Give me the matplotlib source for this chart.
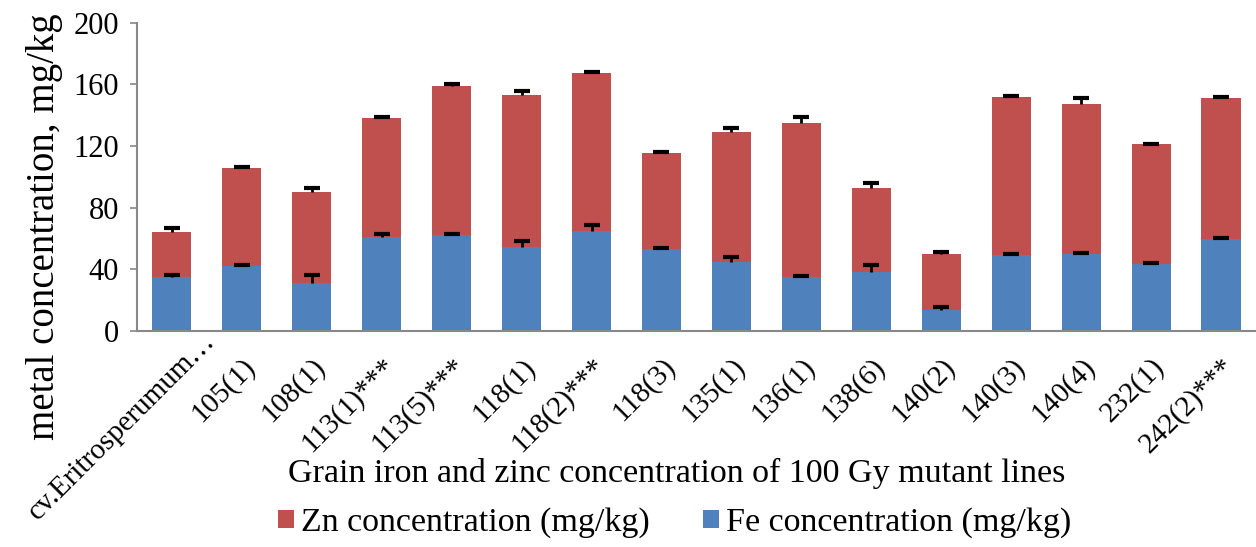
import matplotlib
matplotlib.use("Agg")
import matplotlib.pyplot as plt
import matplotlib.transforms as mtransforms
import numpy as np

categories = ["cv.Eritrosperumum\u2026", "105(1)", "108(1)", "113(1)***", "113(5)***", "118(1)",
              "118(2)***", "118(3)", "135(1)", "136(1)", "138(6)", "140(2)", "140(3)",
              "140(4)", "232(1)", "242(2)***"]
fe = [35, 42, 31, 61, 62, 54.5, 65, 53, 45, 35, 38, 13.6, 49, 50, 43.5, 59.5]
total = [64, 106, 90, 138, 159, 153, 167.5, 115.6, 129, 135, 93, 50, 152, 147, 121, 151]
zn = [t - f for t, f in zip(total, fe)]
fe_err = [1, 0.5, 5, 2, 1, 4, 4, 0.5, 3, 0.5, 4.5, 2, 1, 0.5, 0.5, 0.5]
zn_err = [3, 0.5, 3, 1, 1, 3, 0.5, 0.5, 3, 4, 3, 1, 0.5, 4, 0.5, 0.5]

plt.rcParams['font.family'] = ['Liberation Serif', 'DejaVu Serif']

fig = plt.figure(figsize=(12.56, 5.47), dpi=100)
ax = fig.add_axes([0.109, 0.395, 0.891, 0.5635])

x = np.arange(len(categories))
w = 0.56
zn_col = '#C0504D'
fe_col = '#4F81BD'
ax.bar(x, fe, w, color=fe_col, label='Fe concentration (mg/kg)', zorder=2)
ax.bar(x, zn, w, bottom=fe, color=zn_col, label='Zn concentration (mg/kg)', zorder=2)

for base, err in ((fe, fe_err), (total, zn_err)):
    base = np.asarray(base, float)
    err = np.asarray(err, float)
    ax.errorbar(x, base, yerr=[np.zeros_like(err), err], fmt='none', ecolor='black',
                elinewidth=2, capsize=0, zorder=3)
    ax.plot(x, base + err, linestyle='none', marker='_', markersize=11,
            markeredgewidth=3, color='black', zorder=4)

ax.set_xlim(-0.5, len(categories) - 0.5)
ax.set_ylim(0, 200)
ax.set_yticks(np.arange(0, 201, 40))
ax.set_xticks(x)
ax.set_xticklabels(categories, rotation=45, ha='right', rotation_mode='anchor', fontsize=21)
ax.tick_params(axis='y', labelsize=22, length=5, color='#888888', width=1.2, pad=8)
ax.tick_params(axis='x', length=0, pad=16)
for s in ['top', 'right']:
    ax.spines[s].set_visible(False)
for s in ['left', 'bottom']:
    ax.spines[s].set_color('#888888')
    ax.spines[s].set_linewidth(1.5)

# first (truncated) category label sits further up/right, as in the original layout
first = ax.get_xticklabels()[0]
first.set_transform(first.get_transform() +
                    mtransforms.ScaledTranslation(0.30, 0.25, fig.dpi_scale_trans))

ax.set_ylabel('metal concentration, mg/kg', fontsize=28)
ax.yaxis.set_label_coords(-0.066, 0.337)
ax.set_xlabel('Grain iron and zinc concentration of 100 Gy mutant lines', fontsize=24.5)
ax.xaxis.set_label_coords(0.482, -0.464)
ax.xaxis.label.set_va('center')

h, l = ax.get_legend_handles_labels()
fig.legend([h[1], h[0]], [l[1], l[0]], loc='center', bbox_to_anchor=(0.537, 0.044), ncol=2,
           frameon=False, fontsize=24.5, handlelength=0.47, handleheight=0.47, handletextpad=0.2,
           columnspacing=1.56, borderpad=0, borderaxespad=0)

fig.savefig('out.png', dpi=100)
